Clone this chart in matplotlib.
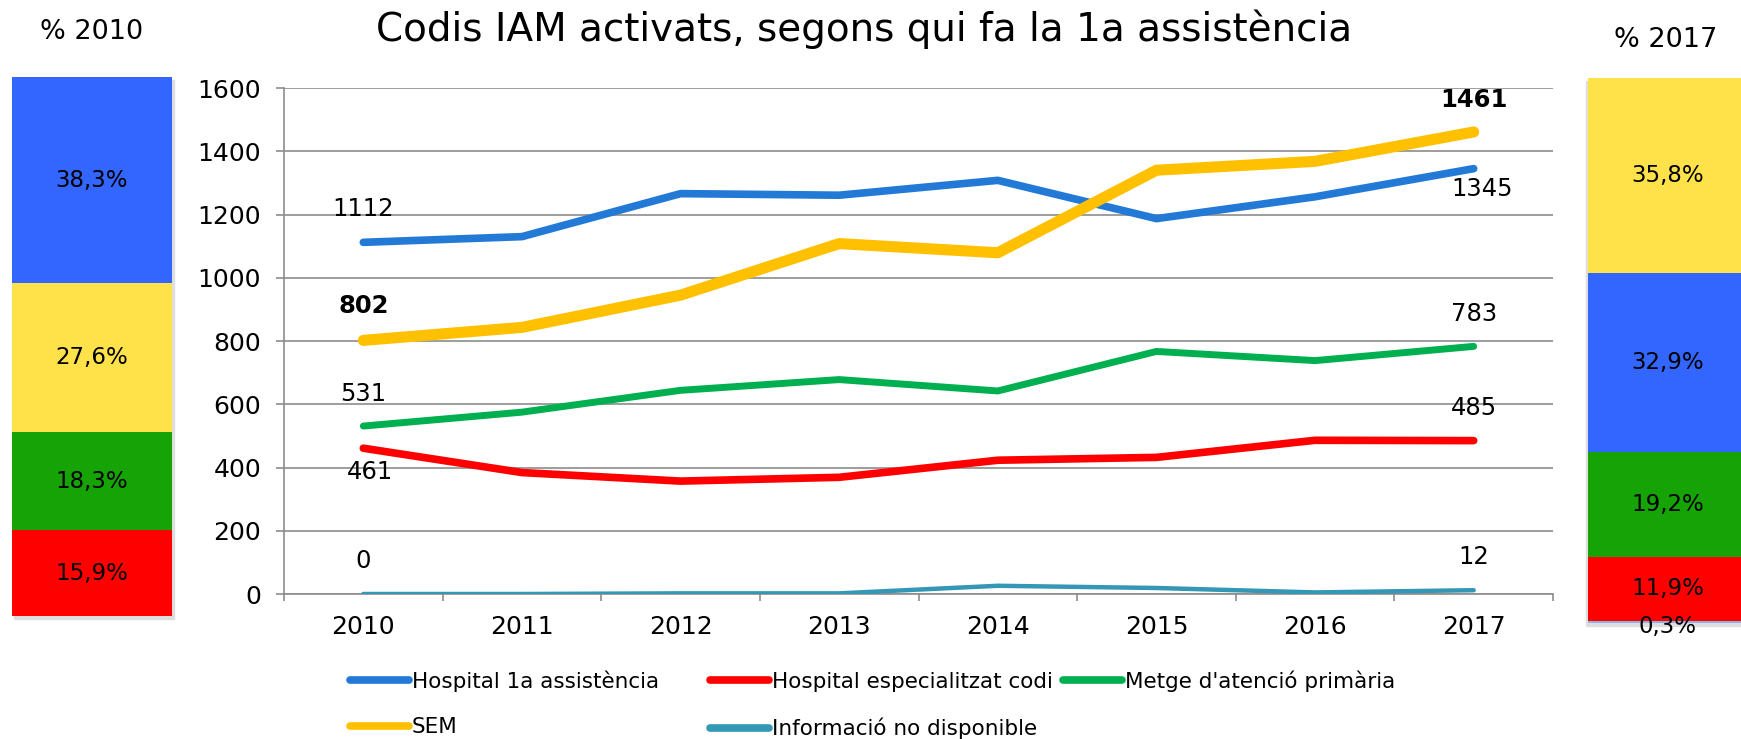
import numpy as np
import matplotlib.pyplot as plt
from matplotlib.lines import Line2D
from matplotlib.patches import Rectangle

# data
years = ['2010', '2011', '2012', '2013', '2014', '2015', '2016', '2017']
hosp_1a = [1112, 1130, 1266, 1261, 1308, 1187, 1256, 1345]
hosp_esp = [461, 384, 357, 369, 423, 432, 486, 485]
metge = [531, 575, 644, 678, 642, 767, 738, 783]
sem = [802, 843, 945, 1108, 1079, 1340, 1368, 1461]
no_info = [0, 0, 2, 2, 26, 19, 5, 12]

names = ['Hospital 1a assistència', 'Hospital especialitzat codi',
         "Metge d'atenció primària", 'SEM', 'Informació no disponible']

pct_2010 = [15.9, 18.3, 27.6, 38.3]          # bottom -> top
pct_2010_lab = ['15,9%', '18,3%', '27,6%', '38,3%']
pct_2017 = [0.3, 11.9, 19.2, 32.9, 35.8]     # bottom -> top
pct_2017_lab = ['0,3%', '11,9%', '19,2%', '32,9%', '35,8%']

c_blue, c_red, c_green, c_yel, c_teal = '#2379d6', '#ff0000', '#00b050', '#ffc000', '#3397b5'
bar_2010_cols = ['#ff0000', '#15a306', '#ffe24a', '#3366ff']
bar_2017_cols = ['#8fb0e0', '#ff0000', '#15a306', '#3366ff', '#ffe24a']

W, H = 1741, 739
fig = plt.figure(figsize=(W / 100, H / 100), dpi=100)
plt.rcParams['font.family'] = 'DejaVu Sans'

def fx(px):
    return px / W

def fy(py):
    return 1 - py / H

# main line chart
ax = fig.add_axes([fx(284), fy(594), fx(1553 - 284), (594 - 88) / H])
x = np.arange(len(years))
grid_c = '#8c8c8c'
ax.plot(x, hosp_1a, color=c_blue, lw=5.5, solid_capstyle='round', zorder=4)
ax.plot(x, hosp_esp, color=c_red, lw=5.5, solid_capstyle='round', zorder=4)
ax.plot(x, metge, color=c_green, lw=5, solid_capstyle='round', zorder=4)
ax.plot(x, sem, color=c_yel, lw=8, solid_capstyle='round', zorder=5)
ax.plot(x, no_info, color=c_teal, lw=3.2, solid_capstyle='round', zorder=3)

ax.set_xlim(-0.5, 7.5)
ax.set_ylim(0, 1600)
ax.set_yticks(np.arange(0, 1601, 200))
ax.yaxis.grid(True, color=grid_c, lw=1.2)
ax.set_axisbelow(True)
ax.set_xticks(x)
ax.set_xticklabels(years)
ax.set_xticks(np.arange(-0.5, 8, 1), minor=True)
ax.tick_params(axis='x', which='major', length=0, pad=15, labelsize=18)
ax.tick_params(axis='x', which='minor', length=5, width=1.2, color=grid_c, direction='out')
ax.tick_params(axis='y', length=5.5, width=1.2, color=grid_c, pad=11, labelsize=18)
for s in ['top', 'right']:
    ax.spines[s].set_visible(False)
for s in ['left', 'bottom']:
    ax.spines[s].set_color(grid_c)
    ax.spines[s].set_linewidth(1.2)

# data labels at first and last year
def lab(xi, yv, dx, dy, bold=False):
    ax.annotate(str(yv), (xi, yv), xytext=(dx, dy), textcoords='offset pixels',
                ha='center', va='center', fontsize=17.5,
                fontweight='bold' if bold else 'normal', zorder=6)

lab(0, hosp_1a[0], 0, 33)
lab(0, sem[0], 0, 34, True)
lab(0, metge[0], 0, 32)
lab(0, hosp_esp[0], 7, -24)
lab(0, no_info[0], 0, 33)
lab(7, sem[7], 0, 32, True)
lab(7, hosp_1a[7], 8, -20)
lab(7, metge[7], 0, 32)
lab(7, hosp_esp[7], 0, 33)
lab(7, no_info[7], 0, 33)

fig.text(fx(864), fy(29), 'Codis IAM activats, segons qui fa la 1a assistència',
         ha='center', va='center', fontsize=28)

# legend, three columns placed like the original
def leg_col(handles, labels, xpx, ypx=670):
    fig.legend(handles, labels, loc='upper left', bbox_to_anchor=(fx(xpx), fy(ypx)),
               frameon=False, fontsize=15.5, handlelength=2.75, handletextpad=0.12,
               labelspacing=1.2, borderpad=0, borderaxespad=0)

h = lambda c: Line2D([], [], color=c, lw=5.5, solid_capstyle='round')
leg_col([h(c_blue), h(c_yel)], [names[0], names[3]], 350)
leg_col([h(c_red), h(c_teal)], [names[1], names[4]], 710, 672)
leg_col([h(c_green)], [names[2]], 1063)

# side stacked bars
def side_bar(rect, vals, cols, labels, title, tx, ty, shadow_dx):
    l, b, w, hh = rect
    fig.patches.append(Rectangle((l + fx(shadow_dx), b - 3 / H), w, hh, transform=fig.transFigure,
                                 color='#dedede', zorder=-5))
    bax = fig.add_axes(rect, zorder=2)
    bottom = 0
    for v, c, t in zip(vals, cols, labels):
        bax.bar(0, v, bottom=bottom, width=1, color=c, linewidth=0)
        if v < 1:
            bax.annotate(t, (0, bottom + v / 2), xytext=(0, -4), textcoords='offset pixels',
                         ha='center', va='center', fontsize=16.5, annotation_clip=False)
        else:
            bax.text(0, bottom + v / 2, t, ha='center', va='center', fontsize=16.5)
        bottom += v
    bax.set_xlim(-0.5, 0.5)
    bax.set_ylim(0, bottom)
    bax.axis('off')
    fig.text(fx(tx), fy(ty), title, ha='center', va='center', fontsize=19.5)

side_bar([fx(12), fy(616), fx(160), (616 - 77) / H], pct_2010, bar_2010_cols, pct_2010_lab,
         '% 2010', 92, 32, 2)
side_bar([fx(1588), fy(623), fx(159), (623 - 78) / H], pct_2017, bar_2017_cols, pct_2017_lab,
         '% 2017', 1666, 40, -2)

fig.savefig('out.png', dpi=100)
